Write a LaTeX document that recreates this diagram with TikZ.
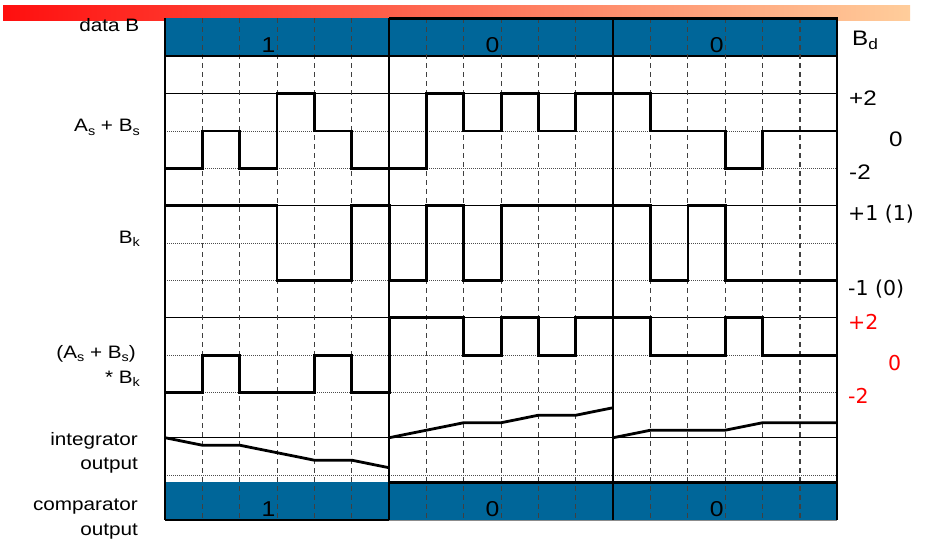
\documentclass[tikz,border=0pt]{standalone}
\usepackage{fontspec}
\setmainfont{Liberation Sans}
\newfontfamily\labfont[FakeStretch=1.15]{Liberation Sans}
\newfontfamily\tahfont{DejaVu Sans}
\definecolor{barblue}{RGB}{0,102,153}
\definecolor{gradL}{RGB}{255,15,15}
\definecolor{gradR}{RGB}{255,205,155}
\newcommand{\dnsub}[1]{\raisebox{-3.5pt}{\fontsize{12.5}{13}\selectfont #1}}
\newcommand{\dnsubb}[1]{\raisebox{-4pt}{\fontsize{15}{16}\selectfont #1}}
\begin{document}
\begin{tikzpicture}[x=1pt,y=-1pt,
  wave/.style={line width=2.8pt,line cap=butt,line join=miter,miter limit=2},
  dashv/.style={black!75,line width=1.1pt,dash pattern=on 5pt off 4pt},
  dotl/.style={black!70,line width=0.6pt,dash pattern=on 0.8pt off 1.2pt},
  solidl/.style={black,line width=1.3pt},
  sepl/.style={black,line width=1.6pt},
  heavy/.style={black,line width=2.4pt},
  llab/.style={anchor=base east,inner sep=0pt,font=\labfont\fontsize{18}{20}\selectfont},
  rlab/.style={anchor=base west,inner sep=0pt,font=\labfont\fontsize{21}{24}\selectfont},
  tlab/.style={anchor=base west,inner sep=0pt,font=\tahfont\fontsize{20.5}{23}\selectfont},
  bit/.style={anchor=base east,inner sep=0pt,xshift=-1.5pt,font=\labfont\fontsize{21.5}{24}\selectfont}]
\useasboundingbox (0,0) rectangle (925,547);
\fill[white] (0,0) rectangle (925,547);
\shade[left color=gradL,right color=gradR] (3,5) rectangle (910,20.7);
\begin{scope}[shift={(165pt,0pt)},x=37.35pt]
  % bars
  \fill[barblue] (0,18.3) rectangle (18,56);
  \fill[barblue] (0,482.3) rectangle (18,520);
  % grid
  \foreach \yy in {93.7,205.7,317.7,437.7} \draw[solidl] (0,\yy) -- (18,\yy);
  \draw[solidl] (6,56) -- (18,56);
  \foreach \yy in {131,168.7,243.3,280.3,355.2,392.7,475.7} \draw[dotl] (0,\yy) -- (18,\yy);
  \foreach \i in {1,2,3,4,5,7,8,9,10,11,13,14,15,16,17} \draw[dashv] (\i,18.3) -- (\i,520);
  \draw[solidl] (0,18.3) -- (0,520);
  \draw[sepl] (6,18.3) -- (6,520);
  \draw[sepl] (12,18.3) -- (12,520);
  \draw[line width=2pt] (18,17.1) -- (18,520);
  % bar borders
  \draw[heavy] (0,56) -- (6,56);
  \draw[heavy] (6,18.3) -- (18.03,18.3);
  \draw[heavy] (6,18.3) -- (6,56);
  \draw[heavy] (6,482.3) -- (18.03,482.3);
  \draw[heavy] (0,520) -- (6,520);
  \draw[heavy] (6,482.3) -- (6,520);
  \draw[black!45,line width=0.8pt] (6,520) -- (18,520);
  % As + Bs
  \draw[wave] (0,168.7) -| (1,131) -| (2,168.7) -| (3,93.7) -| (4,131) -| (5,168.7)
     -| (7,93.7) -| (8,131) -| (9,93.7) -| (10,131) -| (11,93.7) -| (13,131)
     -| (15,168.7) -| (16,131) -- (18,131);
  % Bk
  \draw[wave] (0,205.7) -| (3,280.3) -| (5,205.7) -| (6,280.3) -| (7,205.7) -| (8,280.3)
     -| (9,205.7) -| (13,280.3) -| (14,205.7) -| (15,280.3) -- (18,280.3);
  % (As+Bs)*Bk
  \draw[wave] (0,392.7) -| (1,355.2) -| (2,392.7) -| (4,355.2) -| (5,392.7) -| (6,317.7)
     -| (8,355.2) -| (9,317.7) -| (10,355.2) -| (11,317.7) -| (13,355.2) -| (15,317.7)
     -| (16,355.2) -- (18,355.2);
  % integrator
  \draw[wave] (0,437.7) -- (1,445.2) -- (2,445.2) -- (3,452.7) -- (4,460.2) -- (5,460.2) -- (6,467.7);
  \draw[wave] (6,437.7) -- (7,430.2) -- (8,422.7) -- (9,422.7) -- (10,415.2) -- (11,415.2) -- (12,407.7);
  \draw[wave] (12,437.7) -- (13,430.2) -- (15,430.2) -- (16,422.7) -- (18,422.7);
  % bits
  \node[bit] (db1) at (3,52) {1};
  \node[bit] (db2) at (9,52) {0};
  \node[bit] (db3) at (15,52) {0};
  \node[bit] (co1) at (3,516.5) {1};
  \node[bit] (co2) at (9,516.5) {0};
  \node[bit] (co3) at (15,516.5) {0};
\end{scope}
% left labels
\node[llab] (ldata) at (139.5,31.7) {data B};
\node[llab] (lasbs) at (140,131.7) {A\dnsub{s} + B\dnsub{s}};
\node[llab] (lbk) at (140,243.3) {B\dnsub{k}};
\node[llab] (lprod1) at (136,358.3) {(A\dnsub{s} + B\dnsub{s})};
\node[llab] (lprod2) at (140,383.3) {* B\dnsub{k}};
\node[llab] (lint1) at (138,445) {integrator};
\node[llab] (lint2) at (138,469.5) {output};
\node[llab] (lcmp1) at (138,510) {comparator};
\node[llab] (lcmp2) at (138,535) {output};
% right labels
\node[rlab] (rbd) at (852,45) {B\dnsubb{d}};
\node[rlab] (rp2) at (849,105) {+2};
\node[rlab] (r0) at (889,146) {0};
\node[rlab] (rm2) at (849,179.3) {-2};
\node[tlab] (rp1) at (848,220) {+1 (1)};
\node[tlab] (rm1) at (848,295) {-1 (0)};
\node[tlab,red] (rrp2) at (848,329.3) {+2};
\node[tlab,red] (rr0) at (888,370) {0};
\node[tlab,red] (rrm2) at (848,403.3) {-2};
\end{tikzpicture}
\end{document}
